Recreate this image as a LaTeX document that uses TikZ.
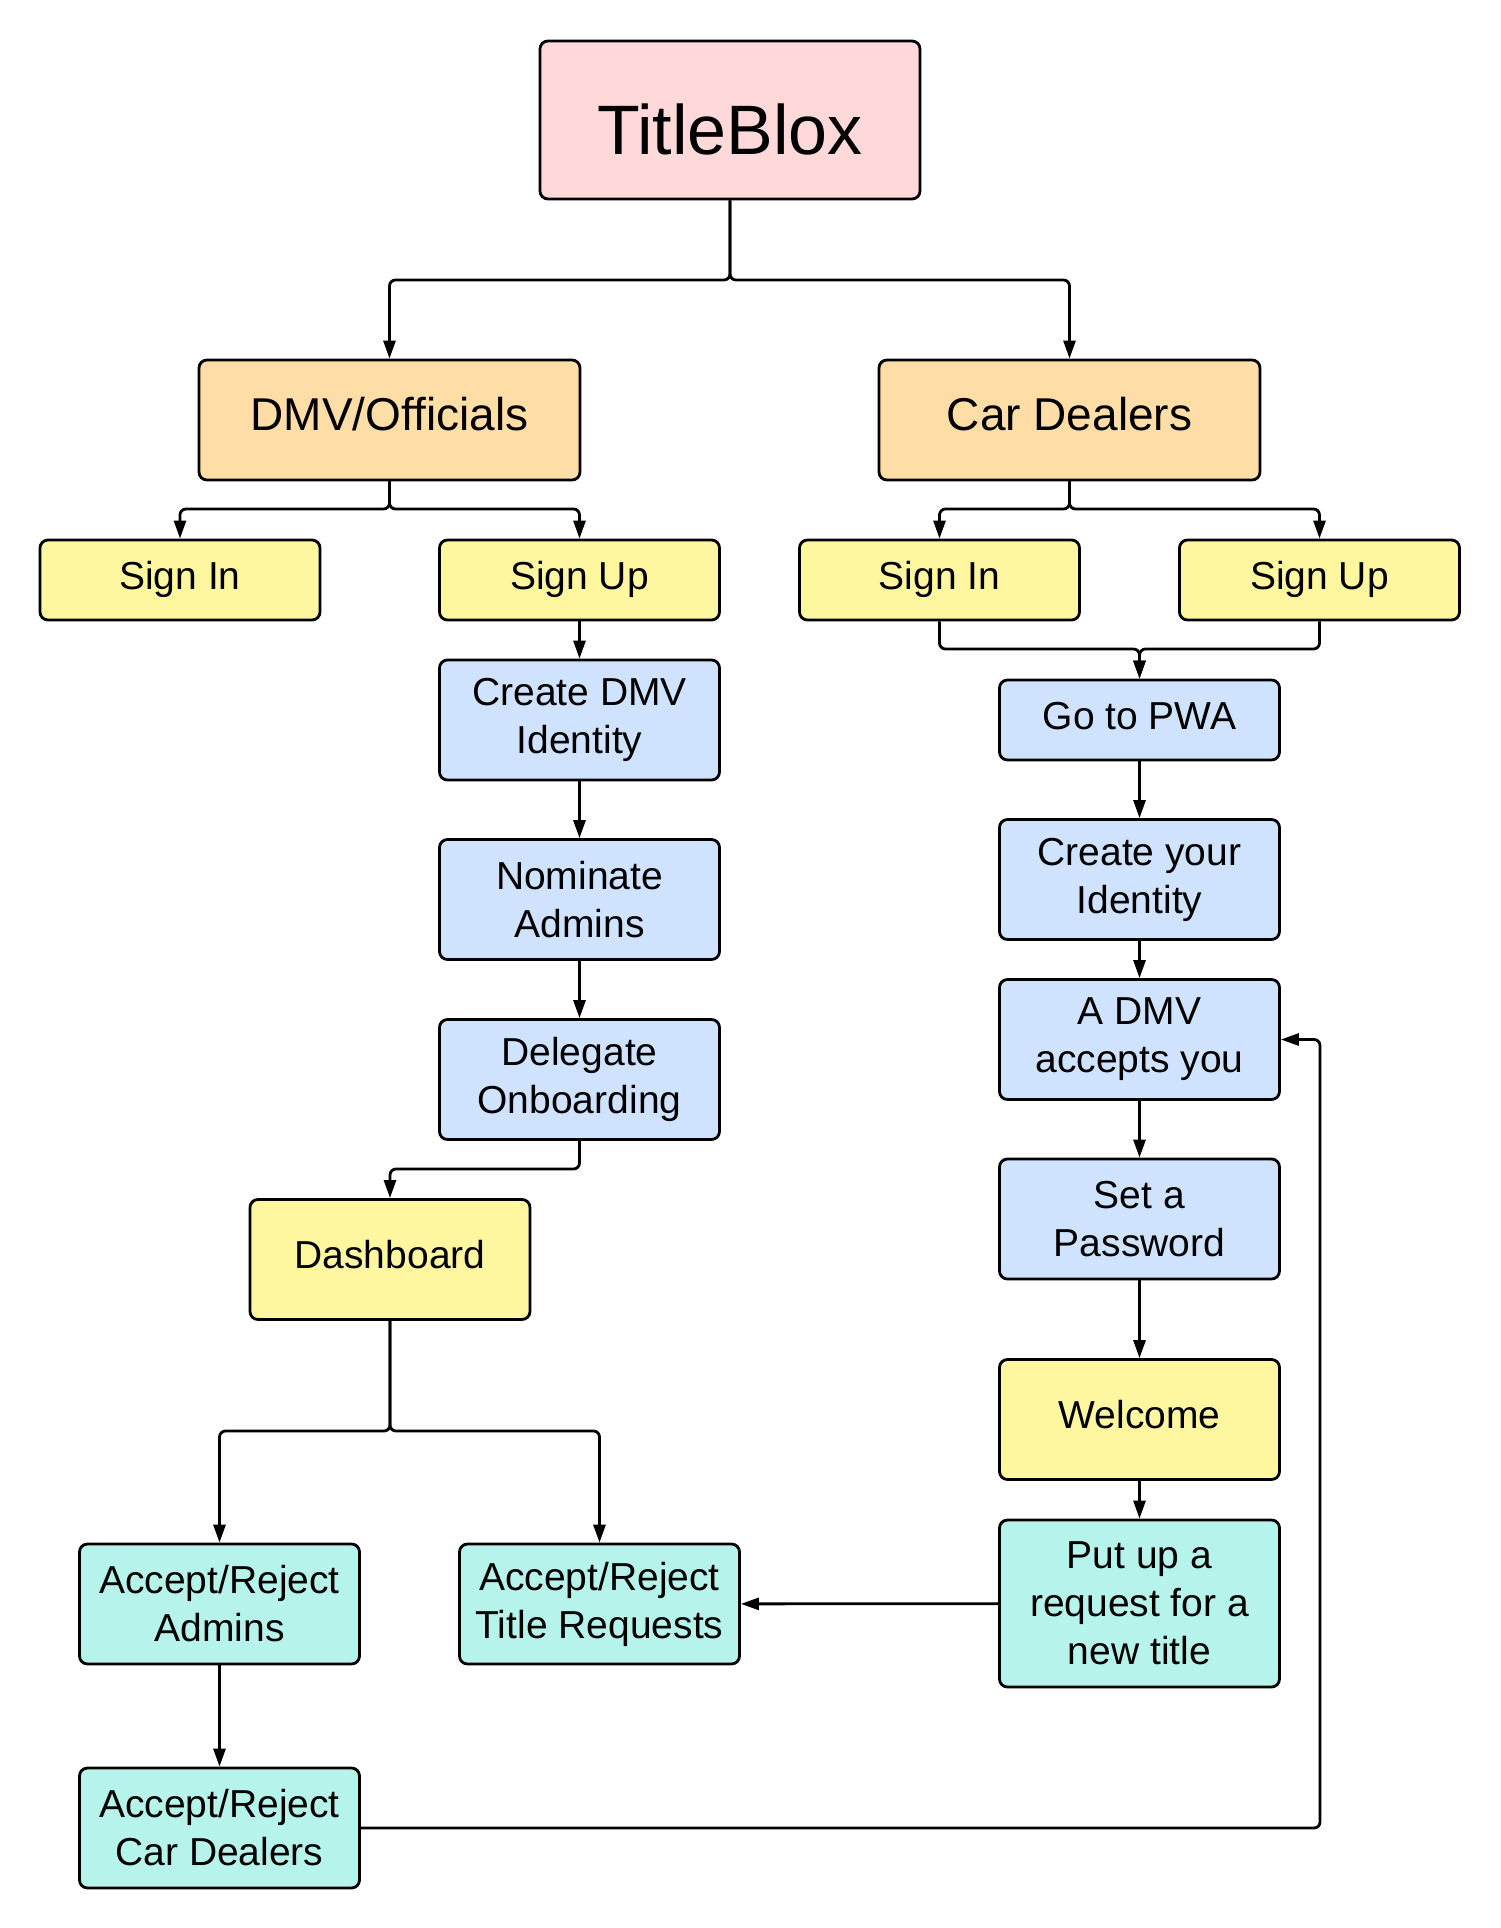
\documentclass[tikz,border=0pt]{standalone}
\usepackage{fontspec}
\setmainfont{Liberation Sans}
\usetikzlibrary{arrows.meta}

\definecolor{tpink}{HTML}{FFD9DA}
\definecolor{gorange}{HTML}{FEDDA6}
\definecolor{ylw}{HTML}{FFF6A0}
\definecolor{blu}{HTML}{CFE3FF}
\definecolor{tea}{HTML}{B6F3EB}

\begin{document}
\begin{tikzpicture}[
  x=0.5pt, y=-0.5pt, line width=1.4pt,
  font=\fontsize{19.5}{24}\selectfont,
  box/.style={draw, rounded corners=4pt, minimum width=140pt, minimum height=60pt,
              inner sep=0pt},
  one/.style={text height=14.5pt, text depth=5.5pt},
  tbox/.style={box, fill=tpink, minimum width=190pt, minimum height=79pt,
               font=\fontsize{35}{42}\selectfont, text height=34pt, text depth=0pt},
  gbox/.style={box, fill=gorange, minimum width=190.5pt, font=\fontsize{23}{28}\selectfont,
               text height=17pt, text depth=6.2pt},
  ybox/.style={box, fill=ylw, one},
  sbox/.style={box, fill=ylw, minimum height=40pt, one},
  bbox/.style={box, fill=blu, align=center},
  cbox/.style={box, fill=tea, align=center},
  ar/.style={-{Triangle[length=9pt,width=6pt]}, rounded corners=3pt}]

\useasboundingbox (0,0) rectangle (1500,1928);

% top and the two user groups
\node[tbox] (title) at (730,120) {TitleBlox};
\node[gbox] (dmv)   at (389.5,420) {DMV/Officials};
\node[gbox] (cars)  at (1069.5,420) {Car Dealers};

% sign in / sign up
\node[sbox] (dsignin) at (180,580)    {Sign In};
\node[sbox] (dsignup) at (579.5,580)  {Sign Up};
\node[sbox] (csignin) at (939.5,580)  {Sign In};
\node[sbox] (csignup) at (1319.5,580) {Sign Up};

% DMV column
\node[bbox] (createdmv) at (579.5,720)  {Create DMV\\Identity};
\node[bbox] (nominate)  at (579.5,899.5){Nominate\\Admins};
\node[bbox] (delegate)  at (579.5,1079.5){Delegate\\Onboarding};
\node[ybox] (dashboard) at (390,1259.5) {Dashboard};
\node[cbox] (araadmins) at (219.5,1604) {Accept/Reject\\Admins};
\node[cbox] (aratitle)  at (599.5,1604) {Accept/Reject\\Title Requests};
\node[cbox] (aracars)   at (219.5,1828) {Accept/Reject\\Car Dealers};

% dealer column
\node[sbox, fill=blu] (pwa) at (1139.5,720) {Go to PWA};
\node[bbox] (createyour) at (1139.5,879.5) {Create your\\Identity};
\node[bbox] (accepts)    at (1139.5,1039.5){A DMV\\accepts you};
\node[bbox] (password)   at (1139.5,1219)  {Set a\\Password};
\node[ybox] (welcome)    at (1139.5,1419.5){Welcome};
\node[cbox, minimum height=83.5pt] (putup) at (1139.5,1603.5)
  {Put up a\\request for a\\new title};

% branch points
\coordinate (tsplit) at (730,280);
\coordinate (dsplit) at (389.5,509);
\coordinate (csplit) at (1069.5,509);
\coordinate (cmerge) at (1139.5,649);
\coordinate (obend)  at (579.5,1169);
\coordinate (bsplit) at (390,1431);
\coordinate (rloop)  at (1320,1828);

\draw[ar] (title.south) -- (tsplit) -| (dmv.north);
\draw[ar] (title.south) -- (tsplit) -| (cars.north);
\draw[ar] (dmv.south) -- (dsplit) -| (dsignin.north);
\draw[ar] (dmv.south) -- (dsplit) -| (dsignup.north);
\draw[ar] (cars.south) -- (csplit) -| (csignin.north);
\draw[ar] (cars.south) -- (csplit) -| (csignup.north);

\draw[ar] (dsignup) -- (createdmv);
\draw[ar] (createdmv) -- (nominate);
\draw[ar] (nominate) -- (delegate);
\draw[ar] (delegate.south) -- (obend) -| (dashboard.north);
\draw[ar] (dashboard.south) -- (bsplit) -| (araadmins.north);
\draw[ar] (dashboard.south) -- (bsplit) -| (aratitle.north);
\draw[ar] (araadmins) -- (aracars);

\draw[ar] (csignin.south) |- (cmerge) -- (pwa.north);
\draw[ar] (csignup.south) |- (cmerge) -- (pwa.north);
\draw[ar] (pwa) -- (createyour);
\draw[ar] (createyour) -- (accepts);
\draw[ar] (accepts) -- (password);
\draw[ar] (password) -- (welcome);
\draw[ar] (welcome) -- (putup);
\draw[ar] (putup) -- (aratitle);
\draw[ar] (aracars.east) -- (rloop) |- (accepts.east);
\end{tikzpicture}
\end{document}
